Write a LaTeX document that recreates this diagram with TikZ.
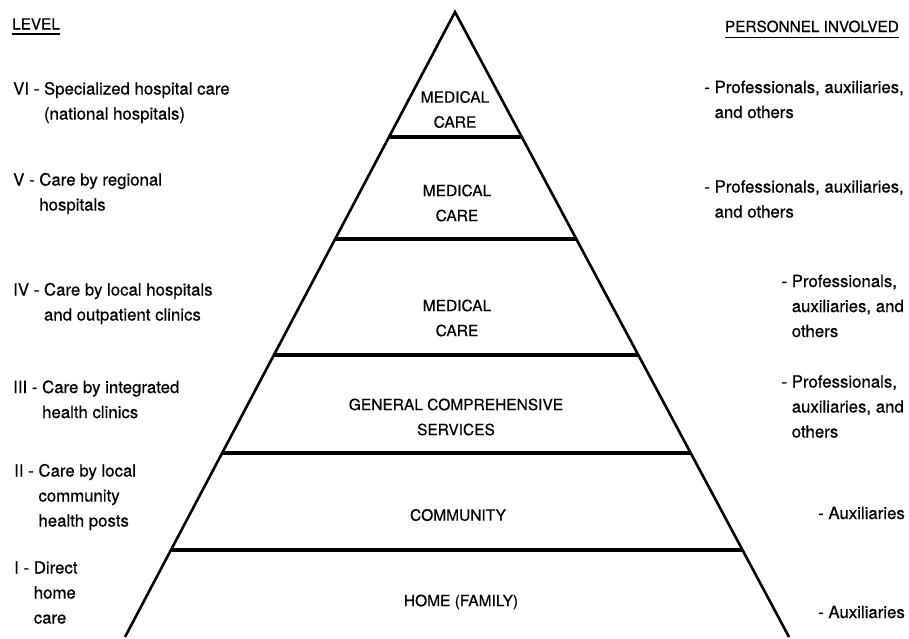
\documentclass[tikz,border=0pt]{standalone}
\usepackage{fontspec}
\setmainfont{TeX Gyre Heros}[FakeBold=0.5]
\usetikzlibrary{calc}
\tikzset{
  side/.style={line width=2.6pt, line join=miter},
  divider/.style={line width=4.2pt},
  lvl/.style={inner sep=0pt, anchor=west, font=\fontsize{16.8}{25}\selectfont},
  pers/.style={inner sep=0pt, anchor=east, font=\fontsize{16.8}{25}\selectfont},
  tier/.style={inner sep=0pt, align=center, font=\fontsize{15.5}{25}\selectfont},
  head/.style={inner sep=0pt, font=\fontsize{15.3}{25}\selectfont},
  ul/.style={line width=1.6pt},
}
\newcommand{\hang}[2]{\begin{tabular}{@{}l@{\ }l@{}}#1 & #2\end{tabular}}
\begin{document}
\begin{tikzpicture}[x=1pt,y=-1pt]
\useasboundingbox[fill=white] (0,0) rectangle (909,638);

% pyramid
\coordinate (apex) at (455,12);
\coordinate (bl) at (125,637);
\coordinate (br) at (789,637);
\draw[side] (bl) -- (apex) -- (br);
\foreach \t/\n in {0.2/1,0.3632/2,0.5488/3,0.7056/4,0.8608/5}{
  \coordinate (dl\n) at ($(apex)!\t!(bl)$);
  \coordinate (dr\n) at ($(apex)!\t!(br)$);
  \draw[divider] (dl\n) -- (dr\n);
}

% tier labels
\node[tier] (t6) at (455,109.5) {MEDICAL\\CARE};
\node[tier] (t5) at (457,203) {MEDICAL\\CARE};
\node[tier] (t4) at (457,318) {MEDICAL\\CARE};
\node[tier] (t3) at (456,417) {GENERAL COMPREHENSIVE\\SERVICES};
\node[tier] (t2) at (458,515) {COMMUNITY};
\node[tier] (t1) at (461,602) {HOME (FAMILY)};

% headers
\node[head, anchor=base west] (hlev) at (12,29.5) {LEVEL};
\draw[ul] ([yshift=-4.5pt]hlev.base west) -- ([yshift=-4.5pt]hlev.base east);
\node[head, anchor=base east] (hper) at (899,32) {PERSONNEL INVOLVED};
\draw[ul] ([yshift=-5.5pt]hper.base west) -- ([yshift=-5.5pt]hper.base east);

% levels
\node[lvl] (l6) at (13,102) {\hang{VI -}{Specialized hospital care\\ & (national hospitals)}};
\node[lvl] (l5) at (13,193) {\hang{V -}{Care by regional\\ & hospitals}};
\node[lvl] (l4) at (13,303) {\hang{IV -}{Care by local hospitals\\ & and outpatient clinics}};
\node[lvl] (l3) at (13,400.5) {\hang{III -}{Care by integrated\\ & health clinics}};
\node[lvl] (l2) at (14,496.5) {\hang{II -}{Care by local\\ & community\\ & health posts}};
\node[lvl] (l1) at (14,593.5) {\hang{I -}{Direct\\ & home\\ & care}};

% personnel
\node[pers] (p6) at (904,100.5) {\hang{-}{Professionals, auxiliaries,\\ & and others}};
\node[pers] (p5) at (904,200) {\hang{-}{Professionals, auxiliaries,\\ & and others}};
\node[pers] (p4) at (904,307) {\hang{-}{Professionals,\\ & auxiliaries, and\\ & others}};
\node[pers] (p3) at (904,407.5) {\hang{-}{Professionals,\\ & auxiliaries, and\\ & others}};
\node[pers] (p2) at (905,513) {- Auxiliaries};
\node[pers] (p1) at (905,612) {- Auxiliaries};
\end{tikzpicture}
\end{document}
